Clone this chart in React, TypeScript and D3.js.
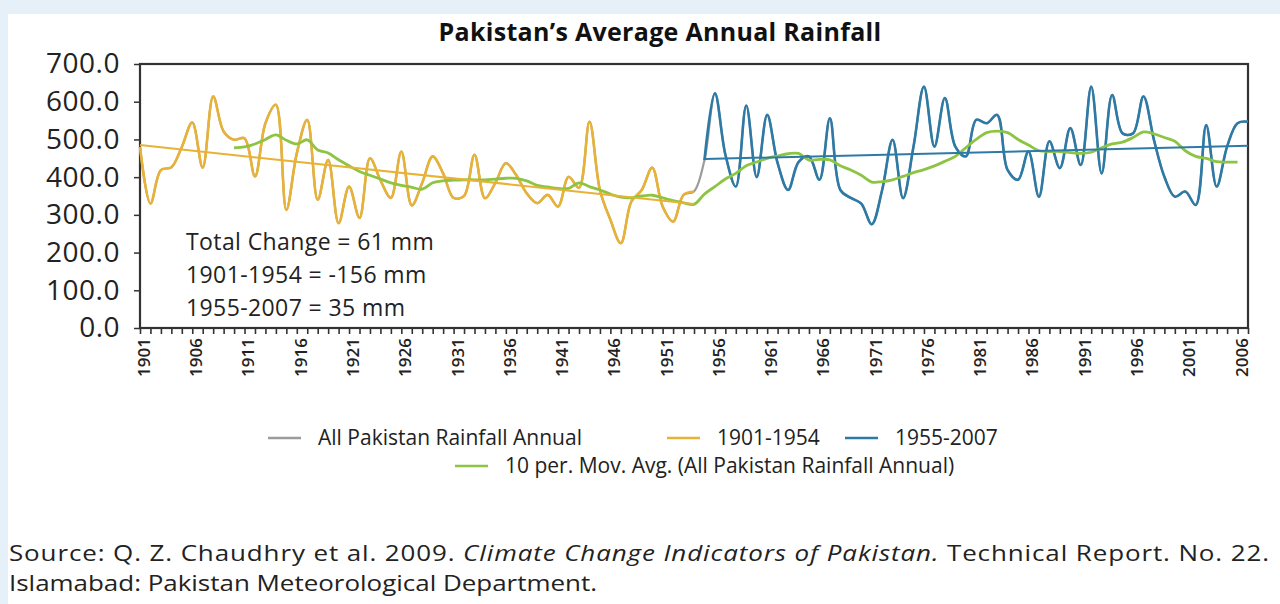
import { useEffect, useRef } from 'react';
import * as d3 from 'd3';

// years on the category axis
const years = d3.range(1901, 2008);
const yTicks = [0, 100, 200, 300, 400, 500, 600, 700];
const labelYears = d3.range(1901, 2007, 5);

// annual rainfall (mm)
const early = [
  480, 330, 419, 426, 480, 545, 425, 614, 521, 499,
  503, 402, 543, 592, 313, 463, 552, 340, 446, 278,
  375, 292, 450, 392, 345, 468, 325, 385, 455, 410,
  345, 350, 459, 344, 385, 437, 405, 357, 331, 353,
  322, 401, 372, 547, 366, 287, 225, 335, 366, 425,
  322, 282, 353, 362,
];
const late = [
  445, 622, 460, 375, 590, 400, 565, 437, 366, 440,
  455, 393, 556, 366, 345, 330, 275, 366, 499, 344,
  481, 640, 481, 610, 481, 455, 552, 543, 565, 419,
  393, 468, 348, 495, 424, 530, 432, 640, 410, 618,
  516, 516, 614, 499, 401, 348, 362, 326, 538, 375,
  481, 543, 547,
];
// 10 period moving average, starts at 1910
const movAvg = [
  478, 480, 488, 500, 512, 498, 488, 499, 472, 464,
  446, 430, 415, 405, 395, 385, 378, 373, 368, 385,
  390, 392, 393, 393, 393, 395, 397, 397, 390, 378,
  374, 370, 370, 385, 375, 366, 355, 347, 345, 350,
  352, 345, 338, 332, 328, 355, 375, 395, 410, 430,
  440, 450, 456, 462, 463, 445, 447, 446, 430, 419,
  405, 387, 388, 393, 402, 412, 420, 430, 442, 455,
  478, 500, 518, 522, 518, 500, 485, 470, 468, 468,
  465, 463, 466, 478, 488, 493, 505, 520, 515, 505,
  495, 470, 455, 450, 441, 440, 440,
];
// linear trend end points
const earlyTrend = [485, 329];
const lateTrend = [448, 483];

const notes = ['Total Change = 61 mm', '1901-1954 = -156 mm', '1955-2007 = 35 mm'];

const ORANGE = '#E8B237';
const BLUE = '#2C7AA5';
const GREEN = '#8DC443';
const GREY = '#9C9C9C';
const FONT = "'Open Sans', sans-serif";

const App = () => {
  const svgRef = useRef<SVGSVGElement>(null);

  useEffect(() => {
    if (!svgRef.current) return;
    const svg = d3.select(svgRef.current);
    svg.selectAll('*').remove();

    const width = 1280;
    const height = 604;
    const margin = { top: 64, right: 32, bottom: 276, left: 140 };

    // page background and white panel
    svg.append('rect').attr('width', width).attr('height', height).attr('fill', '#E6F0F8');
    svg.append('rect').attr('x', 8).attr('y', 14).attr('width', width - 8).attr('height', height - 14).attr('fill', '#fff');

    const x = d3.scalePoint<number>()
      .domain(years)
      .range([margin.left, width - margin.right]);
    const y = d3.scaleLinear()
      .domain([0, 700])
      .range([height - margin.bottom, margin.top]);

    svg.append('text')
      .attr('x', 660)
      .attr('y', 41)
      .attr('text-anchor', 'middle')
      .attr('font-family', FONT)
      .attr('font-weight', 700)
      .attr('font-size', 25)
      .attr('letter-spacing', 0.3)
      .attr('fill', '#111')
      .text('Pakistan\u2019s Average Annual Rainfall');

    // y axis
    const yAxis = svg.append('g')
      .attr('transform', `translate(${margin.left},0)`)
      .call(d3.axisLeft(y).tickValues(yTicks).tickFormat(d3.format('.1f')).tickSize(6).tickSizeOuter(0));
    yAxis.select('.domain').remove();
    yAxis.selectAll('line').attr('stroke', '#333').attr('stroke-width', 1.5);
    yAxis.selectAll('text')
      .attr('font-family', FONT)
      .attr('font-size', 28)
      .attr('letter-spacing', 0.5)
      .attr('fill', '#222')
      .attr('x', -20);

    // x axis with a tick every year
    const xAxis = svg.append('g')
      .attr('transform', `translate(0,${y(0)})`)
      .call(d3.axisBottom(x).tickValues(years).tickSize(6).tickSizeOuter(0).tickFormat(() => ''));
    xAxis.select('.domain').remove();
    xAxis.selectAll('line').attr('stroke', '#333').attr('stroke-width', 1.6);

    svg.append('g')
      .selectAll('text')
      .data(labelYears)
      .join('text')
      .attr('transform', d => `translate(${x(d)! + 4},${y(0) + 10}) rotate(-90)`)
      .attr('text-anchor', 'end')
      .attr('dy', '0.35em')
      .attr('font-family', FONT)
      .attr('font-size', 17)
      .attr('font-weight', 600)
      .attr('fill', '#222')
      .text(d => d);

    // plot frame
    svg.append('rect')
      .attr('x', margin.left)
      .attr('y', margin.top)
      .attr('width', width - margin.right - margin.left)
      .attr('height', y(0) - margin.top)
      .attr('fill', 'none')
      .attr('stroke', '#333')
      .attr('stroke-width', 2.2);

    const line = d3.line<[number, number]>()
      .x(d => x(d[0])!)
      .y(d => y(d[1]))
      .curve(d3.curveCatmullRom.alpha(0.5));

    const earlyPts = early.map((v, i) => [1901 + i, v] as [number, number]);
    const latePts = late.map((v, i) => [1955 + i, v] as [number, number]);
    const avgPts = movAvg.map((v, i) => [1910 + i, v] as [number, number]);

    const draw = (pts: [number, number][], color: string, w: number, curved = true) => {
      svg.append('path')
        .datum(pts)
        .attr('fill', 'none')
        .attr('stroke', color)
        .attr('stroke-width', w)
        .attr('stroke-linejoin', 'round')
        .attr('d', curved ? line(pts) : d3.line<[number, number]>().x(d => x(d[0])!).y(d => y(d[1]))(pts));
    };

    draw([...earlyPts, ...latePts], GREY, 2.2);
    draw(earlyPts, ORANGE, 2.6);
    draw(latePts, BLUE, 2.6);
    draw(avgPts, GREEN, 2.8);
    draw([[1901, earlyTrend[0]], [1954, earlyTrend[1]]], ORANGE, 2, false);
    draw([[1955, lateTrend[0]], [2007, lateTrend[1]]], BLUE, 2, false);

    // notes inside the plot
    svg.append('g')
      .selectAll('text')
      .data(notes)
      .join('text')
      .attr('x', 186)
      .attr('y', (_, i) => 250 + i * 33)
      .attr('font-family', FONT)
      .attr('font-size', 23)
      .attr('letter-spacing', 0.4)
      .attr('fill', '#222')
      .text(d => d);

    // legend
    const legendItems = [
      { label: 'All Pakistan Rainfall Annual', color: GREY, x: 268, y: 438 },
      { label: '1901-1954', color: ORANGE, x: 667, y: 438 },
      { label: '1955-2007', color: BLUE, x: 845, y: 438 },
      { label: '10 per. Mov. Avg. (All Pakistan Rainfall Annual)', color: GREEN, x: 455, y: 466 },
    ];
    const lg = svg.append('g')
      .selectAll('g')
      .data(legendItems)
      .join('g')
      .attr('transform', d => `translate(${d.x},${d.y})`);
    lg.append('line')
      .attr('x1', 0).attr('x2', 33)
      .attr('stroke', d => d.color)
      .attr('stroke-width', 2.6);
    lg.append('text')
      .attr('x', 50)
      .attr('dy', '0.35em')
      .attr('font-family', FONT)
      .attr('font-size', 21)
      .attr('fill', '#222')
      .text(d => d.label);

    // source note, widened to match the original typeface
    const sx = 1.18;
    const srcG = svg.append('g').attr('transform', `translate(9,0) scale(${sx},1)`);
    const src = srcG.append('text')
      .attr('y', 561)
      .attr('font-family', FONT)
      .attr('font-size', 22)
      .attr('textLength', 1260 / sx)
      .attr('lengthAdjust', 'spacing')
      .attr('fill', '#222');
    src.append('tspan').text('Source: Q. Z. Chaudhry et al. 2009. ');
    src.append('tspan').attr('font-style', 'italic').text('Climate Change Indicators of Pakistan.');
    src.append('tspan').text(' Technical Report. No. 22.');
    srcG.append('text')
      .attr('y', 591)
      .attr('font-family', FONT)
      .attr('font-size', 22)
      .attr('textLength', 588 / sx)
      .attr('lengthAdjust', 'spacing')
      .attr('fill', '#222')
      .text('Islamabad: Pakistan Meteorological Department.');
  }, []);

  return (
    <svg
      ref={svgRef}
      width={1280}
      height={604}
      style={{ position: 'absolute', left: 0, top: 0 }}
    />
  );
};

export default App;
